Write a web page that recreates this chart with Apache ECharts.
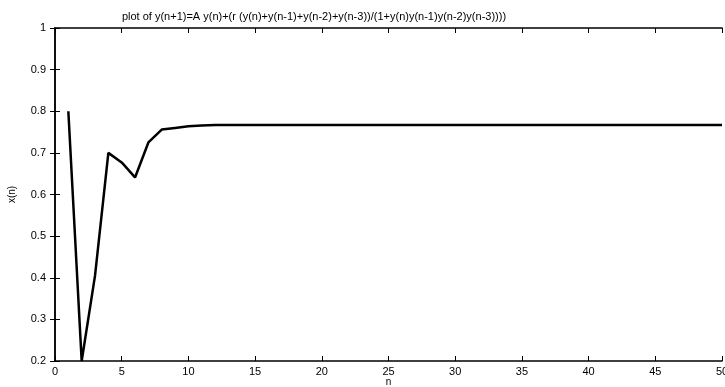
<!DOCTYPE html>
<html>
<head>
<meta charset="utf-8">
<script src="https://cdn.jsdelivr.net/npm/echarts@6/dist/echarts.min.js"></script>
<style>
  html, body { margin: 0; padding: 0; background: #fff; }
  #chart { width: 725px; height: 387px; }
</style>
</head>
<body>
<div id="chart"></div>
<script>
// n = 1..50
var nValues = [1, 2, 3, 4, 5, 6, 7, 8, 9, 10,
  11, 12, 13, 14, 15, 16, 17, 18, 19, 20,
  21, 22, 23, 24, 25, 26, 27, 28, 29, 30,
  31, 32, 33, 34, 35, 36, 37, 38, 39, 40,
  41, 42, 43, 44, 45, 46, 47, 48, 49, 50];
var xValues = [0.8, 0.2, 0.405, 0.70, 0.677, 0.641, 0.725, 0.756, 0.760, 0.764,
  0.766, 0.767, 0.767, 0.767, 0.767, 0.767, 0.767, 0.767, 0.767, 0.767,
  0.767, 0.767, 0.767, 0.767, 0.767, 0.767, 0.767, 0.767, 0.767, 0.767,
  0.767, 0.767, 0.767, 0.767, 0.767, 0.767, 0.767, 0.767, 0.767, 0.767,
  0.767, 0.767, 0.767, 0.767, 0.767, 0.767, 0.767, 0.767, 0.767, 0.767];

var titleText = 'plot of y(n+1)=A y(n)+(r (y(n)+y(n-1)+y(n-2)+y(n-3))/(1+y(n)y(n-1)y(n-2)y(n-3))))';

var chart = echarts.init(document.getElementById('chart'));

var font = 'Liberation Sans, Arial, sans-serif';
var axisLine = { show: true, lineStyle: { color: '#000', width: 1.5 } };
var tickIn = { show: true, inside: true, length: 5, lineStyle: { color: '#000', width: 1 } };

chart.setOption({
  animation: false,
  title: {
    text: titleText,
    left: 309,
    textAlign: 'center',
    top: 6,
    textStyle: { fontFamily: font, fontSize: 11, fontWeight: 'normal', color: '#000' }
  },
  grid: { left: 55, right: 3, top: 28, bottom: 26, outerBoundsMode: 'none' },
  xAxis: [{
    type: 'value', min: 0, max: 50, interval: 5,
    name: 'n', nameLocation: 'middle', nameGap: 16, nameMoveOverlap: false,
    nameTextStyle: { fontFamily: font, fontSize: 10, color: '#000' },
    axisLine: axisLine, axisTick: tickIn,
    axisLabel: { fontFamily: font, fontSize: 11, color: '#000', margin: 5 },
    splitLine: { show: false }
  }, {
    type: 'value', position: 'top', min: 0, max: 50, interval: 5,
    axisLine: axisLine, axisTick: tickIn,
    axisLabel: { show: false }, splitLine: { show: false }
  }],
  yAxis: [{
    type: 'value', min: 0.2, max: 1, interval: 0.1,
    name: 'x(n)', nameLocation: 'middle', nameGap: 38, nameRotate: 90, nameMoveOverlap: false,
    nameTextStyle: { fontFamily: font, fontSize: 10, color: '#000' },
    axisLine: axisLine, axisTick: tickIn,
    axisLabel: { fontFamily: font, fontSize: 11, color: '#000', margin: 9 },
    splitLine: { show: false }
  }, {
    type: 'value', position: 'right', min: 0.2, max: 1, interval: 0.1,
    axisLine: axisLine, axisTick: tickIn,
    axisLabel: { show: false }, splitLine: { show: false }
  }],
  series: [{
    type: 'line',
    data: nValues.map(function (n, i) { return [n, xValues[i]]; }),
    showSymbol: false,
    clip: true,
    lineStyle: { color: '#000', width: 2.5 }
  }]
});
</script>
</body>
</html>
